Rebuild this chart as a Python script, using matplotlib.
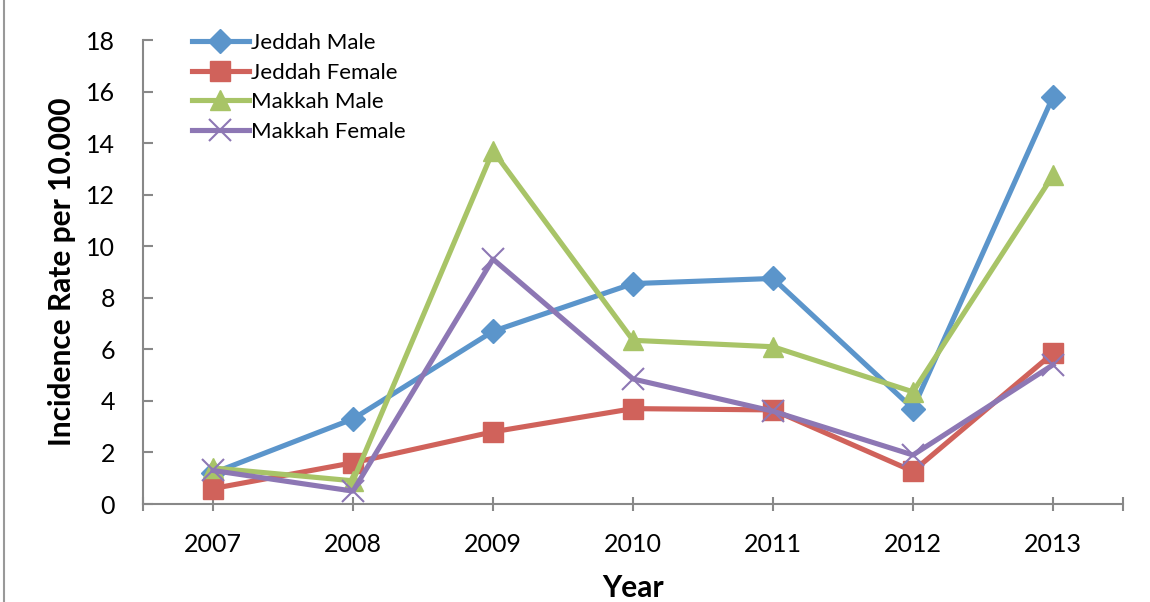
import matplotlib
matplotlib.use("Agg")
import matplotlib.pyplot as plt
from matplotlib.lines import Line2D
import numpy as np

years = ["2007", "2008", "2009", "2010", "2011", "2012", "2013"]
jeddah_male = [1.2, 3.3, 6.7, 8.55, 8.75, 3.7, 15.8]
jeddah_female = [0.6, 1.6, 2.8, 3.7, 3.65, 1.27, 5.85]
makkah_male = [1.4, 0.9, 13.7, 6.35, 6.1, 4.35, 12.75]
makkah_female = [1.3, 0.5, 9.5, 4.85, 3.6, 1.9, 5.4]

series_names = ["Jeddah Male", "Jeddah Female", "Makkah Male", "Makkah Female"]

plt.rcParams['font.family'] = ['Lato', 'DejaVu Sans']

fig = plt.figure(figsize=(11.5, 6.02), dpi=100)
ax = fig.add_axes([143/1150, 98/602, 980/1150, 464/602])

x = np.arange(len(years))
grey = "#888888"

ax.plot(x, jeddah_male, color="#5B95CB", lw=3.7, marker="D", ms=12, label=series_names[0])
ax.plot(x, jeddah_female, color="#D0625B", lw=3.7, marker="s", ms=14, label=series_names[1])
ax.plot(x, makkah_male, color="#A8C467", lw=3.7, marker="^", ms=15, label=series_names[2])
ax.plot(x, makkah_female, color="#8D77B4", lw=3.7, marker="x", ms=16, mew=1.5, label=series_names[3])

ax.set_xlim(-0.5, 6.5)
ax.set_ylim(0, 18)
ax.set_yticks(np.arange(0, 19, 2))
ax.set_xticks(x)
ax.set_xticklabels(years)
ax.set_xticks([-0.5, 6.5], minor=True)

for s in ["top", "right"]:
    ax.spines[s].set_visible(False)
for s in ["left", "bottom"]:
    ax.spines[s].set_color(grey)
    ax.spines[s].set_linewidth(1.5)

ax.tick_params(axis="y", direction="in", length=7, width=1.5, color=grey, labelsize=18, pad=20)
ax.tick_params(axis="x", which="both", direction="inout", length=10, width=1.5, color=grey, labelsize=18, pad=16)

fig.text(62/1150, 1 - 272/602, "Incidence Rate per 10.000", rotation=90,
         ha="center", va="center", fontsize=21.5, fontweight="bold")
fig.text(633/1150, 1 - 588/602, "Year", ha="center", va="center", fontsize=21.5, fontweight="bold")

ax.legend(loc="upper left", bbox_to_anchor=(192/1150, 1 - 33/602), bbox_transform=fig.transFigure,
          frameon=False, fontsize=16, handlelength=2.55, handletextpad=0.1,
          labelspacing=0.43, borderpad=0, borderaxespad=0)

fig.add_artist(Line2D([4/1150, 4/1150], [0, 1], transform=fig.transFigure, color="#999999", lw=1.5))

fig.savefig("out.png", dpi=100)
